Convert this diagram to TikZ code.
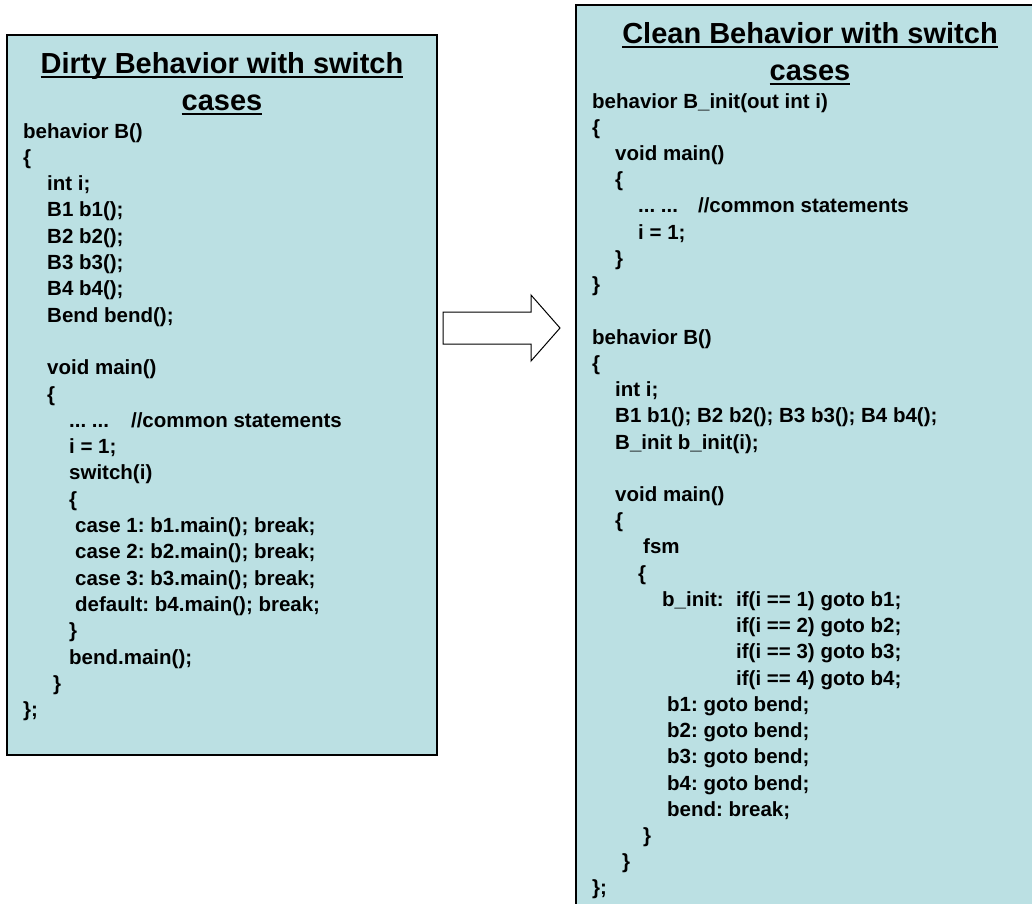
\documentclass[tikz,border=0pt]{standalone}
\usepackage{fontspec}
\setmainfont{Liberation Sans}
\frenchspacing
\definecolor{boxfill}{HTML}{BBE0E3}
\newcommand\codefont{\fontsize{20.5}{24}\selectfont\bfseries\frenchspacing}
\newcommand\titlefont{\fontsize{29}{34}\selectfont\bfseries}
\newcommand\ulin[1]{\setbox0\hbox{#1}\rlap{\rule[-5pt]{\wd0}{1.6pt}}\box0}
\tikzset{
  code/.style={anchor=base west, inner sep=0pt, font=\codefont, text=black},
  ttl/.style={anchor=base, inner sep=0pt, font=\titlefont, text=black},
  panel/.style={draw=black, line width=1.4pt, fill=boxfill},
  bigarrow/.style={draw=black, line width=1pt, fill=white, line join=miter}
}
\begin{document}
\begin{tikzpicture}[x=1pt,y=-1pt]
\useasboundingbox (0,0) rectangle (1032,903);
\clip (0,0) rectangle (1032,903);
\fill[white] (0,0) rectangle (1032,903);
% panels
\draw[panel] (7,35) rectangle (437,755);
\draw[panel] (576,5) rectangle (1046,912);
% block arrow
\draw[bigarrow] (443,312) -- (531,312) -- (531,295) -- (560,328) -- (531,361) -- (531,344) -- (443,344) -- cycle;
% left title
\node[ttl] (lt1) at (222,73) {\ulin{Dirty Behavior with switch}};
\node[ttl] (lt2) at (222,110) {\ulin{cases}};
% left code
\node[code] (l0) at (23,138.0) {behavior B()};
\node[code] (l1) at (23,164.3) {\{};
\node[code] (l2) at (47,190.6) {int i;};
\node[code] (l3) at (47,216.9) {B1 b1();};
\node[code] (l4) at (47,243.2) {B2 b2();};
\node[code] (l5) at (47,269.5) {B3 b3();};
\node[code] (l6) at (47,295.8) {B4 b4();};
\node[code] (l7) at (47,322.1) {Bend bend();};
\node[code] (l9) at (47,374.7) {void main()};
\node[code] (l10) at (47,401.0) {\{};
\node[code] (l11) at (69,427.3) {... ...\hspace{22pt}//common statements};
\node[code] (l12) at (69,453.6) {i = 1;};
\node[code] (l13) at (69,479.9) {switch(i)};
\node[code] (l14) at (69,506.2) {\{};
\node[code] (l15) at (75,532.5) {case 1: b1.main(); break;};
\node[code] (l16) at (75,558.8) {case 2: b2.main(); break;};
\node[code] (l17) at (75,585.1) {case 3: b3.main(); break;};
\node[code] (l18) at (75,611.4) {default: b4.main(); break;};
\node[code] (l19) at (69,637.7) {\}};
\node[code] (l20) at (69,664.0) {bend.main();};
\node[code] (l21) at (53,690.3) {\}};
\node[code] (l22) at (23,716.6) {\};};
% right title
\node[ttl] (rt1) at (810,43) {\ulin{Clean Behavior with switch}};
\node[ttl] (rt2) at (810,80) {\ulin{cases}};
% right code
\node[code] (r0) at (592,108.0) {behavior B\_init(out int i)};
\node[code] (r1) at (592,134.2) {\{};
\node[code] (r2) at (615,160.5) {void main()};
\node[code] (r3) at (615,186.7) {\{};
\node[code] (r4) at (638,212.9) {... ...\hspace{20pt}//common statements};
\node[code] (r5) at (638,239.2) {i = 1;};
\node[code] (r6) at (615,265.4) {\}};
\node[code] (r7) at (592,291.6) {\}};
\node[code] (r9) at (592,344.1) {behavior B()};
\node[code] (r10) at (592,370.3) {\{};
\node[code] (r11) at (615,396.5) {int i;};
\node[code] (r12) at (615,422.8) {B1 b1(); B2 b2(); B3 b3(); B4 b4();};
\node[code] (r13) at (615,449.0) {B\_init b\_init(i);};
\node[code] (r15) at (615,501.5) {void main()};
\node[code] (r16) at (615,527.7) {\{};
\node[code] (r17) at (643,553.9) {fsm};
\node[code] (r18) at (638,580.1) {\{};
\node[code] (r19a) at (662,606.4) {b\_init:};
\node[code] (r19b) at (736,606.4) {if(i == 1) goto b1;};
\node[code] (r20) at (736,632.6) {if(i == 2) goto b2;};
\node[code] (r21) at (736,658.8) {if(i == 3) goto b3;};
\node[code] (r22) at (736,685.1) {if(i == 4) goto b4;};
\node[code] (r23) at (667,711.3) {b1: goto bend;};
\node[code] (r24) at (667,737.5) {b2: goto bend;};
\node[code] (r25) at (667,763.8) {b3: goto bend;};
\node[code] (r26) at (667,790.0) {b4: goto bend;};
\node[code] (r27) at (667,816.2) {bend: break;};
\node[code] (r28) at (643,842.4) {\}};
\node[code] (r29) at (622,868.7) {\}};
\node[code] (r30) at (592,894.9) {\};};
\end{tikzpicture}
\end{document}
